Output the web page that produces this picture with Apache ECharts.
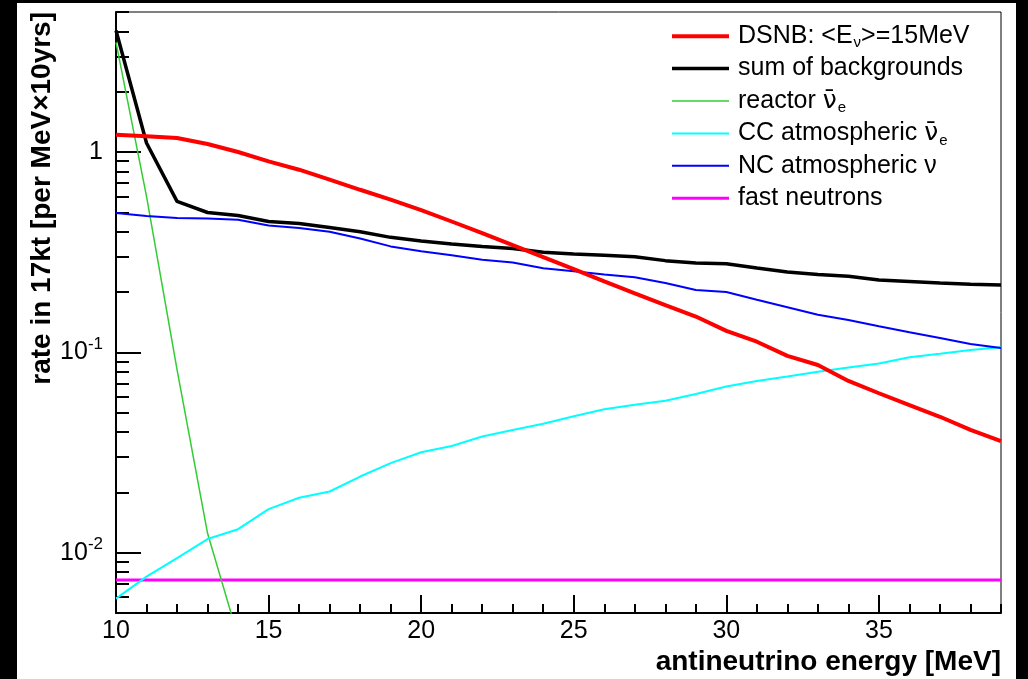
<!DOCTYPE html>
<html>
<head>
<meta charset="utf-8">
<script src="https://cdn.jsdelivr.net/npm/echarts@6/dist/echarts.min.js"></script>
<style>
html,body{margin:0;padding:0;background:#fff}
#chart{width:1028px;height:679px}
</style>
</head>
<body>
<div id="chart"></div>
<script>
// antineutrino energy [MeV]
var energy = [10,11,12,13,14,15,16,17,18,19,20,21,22,23,24,25,26,27,28,29,30,31,32,33,34,35,36,37,38,39];

// rates per MeV x 10yrs
var dsnb    = [1.22,1.20,1.175,1.096,1.0,0.898,0.816,0.728,0.648,0.578,0.513,0.45,0.394,0.343,0.299,0.26,0.226,0.197,0.172,0.151,0.128,0.113,0.096,0.0865,0.072,0.0625,0.0545,0.0477,0.041,0.036];
var sumBkg  = [4.04,1.11,0.567,0.499,0.482,0.45,0.44,0.42,0.40,0.375,0.36,0.347,0.338,0.33,0.316,0.31,0.305,0.30,0.287,0.279,0.277,0.264,0.252,0.245,0.24,0.230,0.226,0.222,0.219,0.217];
var reactor = [3.53,0.60,0.082,0.0125,0.0038];
var ccAtm   = [0.0059,0.0076,0.0094,0.0117,0.0131,0.0165,0.0188,0.0202,0.024,0.028,0.0317,0.0341,0.038,0.041,0.044,0.048,0.052,0.0548,0.0573,0.062,0.0675,0.072,0.0757,0.080,0.084,0.088,0.0946,0.0984,0.1028,0.106];
var ncAtm   = [0.496,0.48,0.468,0.466,0.459,0.43,0.418,0.40,0.37,0.338,0.32,0.305,0.29,0.281,0.263,0.254,0.245,0.237,0.222,0.205,0.20,0.183,0.168,0.154,0.145,0.135,0.126,0.118,0.110,0.105];
var fastN   = [0.0073,0.0073,0.0073,0.0073,0.0073,0.0073,0.0073,0.0073,0.0073,0.0073,0.0073,0.0073,0.0073,0.0073,0.0073,0.0073,0.0073,0.0073,0.0073,0.0073,0.0073,0.0073,0.0073,0.0073,0.0073,0.0073,0.0073,0.0073,0.0073,0.0073];

// axis ticks
var xMajor = [10,15,20,25,30,35];
var yMajor = [0.01,0.1,1];
var yMinor = [0.005,0.006,0.007,0.008,0.009,0.02,0.03,0.04,0.05,0.06,0.07,0.08,0.09,0.2,0.3,0.4,0.5,0.6,0.7,0.8,0.9,2,3,4,5];
var yMin = 0.005, yMax = 5;

var names = ['DSNB: <E\u03bd>=15MeV','sum of backgrounds','reactor \u03bd\u0304e','CC atmospheric \u03bd\u0304e','NC atmospheric \u03bd','fast neutrons'];
var legendRich = {};
legendRich[names[0]] = 'DSNB: <E{sub|\u03bd}>=15MeV';
legendRich[names[1]] = 'sum of backgrounds';
legendRich[names[2]] = 'reactor {nb|\u03bd\u0304}{sub|e}';
legendRich[names[3]] = 'CC atmospheric {nb|\u03bd\u0304}{sub|e}';
legendRich[names[4]] = 'NC atmospheric \u03bd';
legendRich[names[5]] = 'fast neutrons';

var colors = ['#ff0000','#000000','#33cc33','#00ffff','#0000ff','#ff00ff'];
var widths = [4, 3.5, 1.5, 2, 2, 3];

var FONT = 'Liberation Sans, Arial, Helvetica, sans-serif';
var lg = Math.log10;

function pairs(vals){
    var out = [];
    for (var i = 0; i < vals.length; i++) out.push([energy[i], vals[i]]);
    return out;
}
function mkLine(k, vals){
    return {
        name: names[k], type: 'line', data: pairs(vals),
        xAxisIndex: 0, yAxisIndex: 0,
        symbol: 'none', showSymbol: false, smooth: false,
        lineStyle: {color: colors[k], width: widths[k]},
        itemStyle: {color: colors[k]},
        emphasis: {disabled: true},
        clip: true
    };
}

var myChart = echarts.init(document.getElementById('chart'), null, {renderer: 'canvas'});
var option = {
    animation: false,
    backgroundColor: '#fff',
    textStyle: {fontFamily: FONT},
    grid: {left: 116, right: 27, top: 12, bottom: 66, show: true, borderColor: '#000', borderWidth: 1, outerBoundsMode: 'none'},
    xAxis: [{
        type: 'value', min: 10, max: 39, position: 'bottom',
        axisLine: {show: true, onZero: false, lineStyle: {color: '#000', width: 2}},
        axisTick: {show: true, inside: true, length: 18, lineStyle: {color: '#000', width: 2}, customValues: xMajor},
        axisLabel: {show: true, margin: 6, color: '#000', fontSize: 25, fontFamily: FONT, customValues: xMajor},
        splitLine: {show: false}
    }, {
        type: 'value', min: 10, max: 39, interval: 1, position: 'bottom', gridIndex: 0,
        axisLine: {show: false, onZero: false},
        axisTick: {show: true, inside: true, length: 9, lineStyle: {color: '#000', width: 2}},
        axisLabel: {show: false},
        splitLine: {show: false}
    }],
    yAxis: [{
        type: 'log', logBase: 10, min: yMin, max: yMax, position: 'left',
        axisLine: {show: false}, axisTick: {show: false}, axisLabel: {show: false}, splitLine: {show: false}
    }, {
        type: 'value', min: lg(yMin), max: lg(yMax), position: 'left',
        axisLine: {show: true, onZero: false, lineStyle: {color: '#000', width: 2}},
        axisTick: {show: true, inside: true, length: 13, lineStyle: {color: '#000', width: 2}, customValues: yMinor.map(lg)},
        axisLabel: {show: false},
        splitLine: {show: false}
    }, {
        type: 'value', min: lg(yMin), max: lg(yMax), position: 'left',
        axisLine: {show: false, onZero: false},
        axisTick: {show: true, inside: true, length: 25, lineStyle: {color: '#000', width: 2}, customValues: yMajor.map(lg)},
        axisLabel: {
            show: true, margin: 13, color: '#000', customValues: yMajor.map(lg),
            formatter: function(v){
                var e = Math.round(v);
                if (e === 0) return '{b|1}';
                return '{b|10}{s|' + e + '}';
            },
            rich: {
                b: {fontSize: 25, fontFamily: FONT, color: '#000'},
                s: {fontSize: 17, fontFamily: FONT, color: '#000', padding: [0, 0, 16, 0]}
            }
        },
        splitLine: {show: false}
    }],
    legend: {
        orient: 'vertical', left: 670, top: 20, itemGap: 0, padding: 0,
        itemWidth: 57, itemHeight: 14, selectedMode: false,
        itemStyle: {opacity: 0},
        data: names.map(function(n, i){
            return {name: n, lineStyle: {width: widths[i], color: colors[i]}};
        }),
        formatter: function(n){ return legendRich[n]; },
        textStyle: {
            fontSize: 25, fontFamily: FONT, color: '#000', lineHeight: 32.4, padding: [0, 0, 0, 4],
            rich: {
                sub: {fontSize: 15, fontFamily: FONT, color: '#000', lineHeight: 32.4, padding: [14, 0, 0, 1]},
                nb: {fontSize: 25, fontFamily: 'DejaVu Sans', color: '#000', lineHeight: 32.4}
            }
        }
    },
    graphic: [
        {type: 'rect', shape: {x: 0, y: 0, width: 17, height: 679}, style: {fill: '#000'}, silent: true},
        {type: 'rect', shape: {x: 0, y: 0, width: 1028, height: 3}, style: {fill: '#000'}, silent: true},
        {type: 'rect', shape: {x: 1016, y: 0, width: 12, height: 679}, style: {fill: '#000'}, silent: true},
        {type: 'text', x: 1001, y: 662, style: {text: 'antineutrino energy [MeV]', font: 'bold 28px ' + FONT, fill: '#000', align: 'right', verticalAlign: 'middle'}},
        {type: 'text', x: 42, y: 12, rotation: Math.PI / 2, style: {text: 'rate in 17kt [per MeV\u00d710yrs]', font: 'bold 28px ' + FONT, fill: '#000', align: 'right', verticalAlign: 'middle'}}
    ],
    series: [
        mkLine(5, fastN),
        mkLine(2, reactor),
        mkLine(3, ccAtm),
        mkLine(4, ncAtm),
        mkLine(1, sumBkg),
        mkLine(0, dsnb)
    ]
};
myChart.setOption(option);
</script>
</body>
</html>
